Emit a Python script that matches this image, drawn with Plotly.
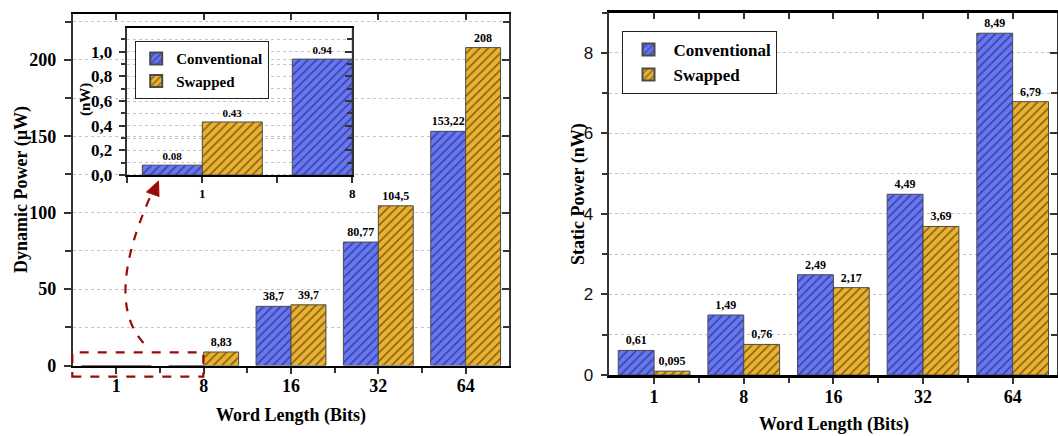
import plotly.graph_objects as go

# ---------------- data ----------------
word_lengths = ["1", "8", "16", "32", "64"]
series_names = ["Conventional", "Swapped"]

# Dynamic power (µW)
dyn_conventional = [0.00008, 0.00094, 38.7, 80.77, 153.22]
dyn_swapped = [0.00043, 8.83, 39.7, 104.5, 208]
dyn_conv_labels = ["", "", "38,7", "80,77", "153,22"]
dyn_swap_labels = ["", "8,83", "39,7", "104,5", "208"]

# Inset (nW) for word lengths 1 and 8
inset_lengths = ["1", "8"]
inset_conventional = [0.08, 0.94]
inset_swapped = [0.43, 8830]
inset_conv_labels = ["0.08", "0.94"]
inset_swap_labels = ["0.43", ""]

# Static power (nW)
sta_conventional = [0.61, 1.49, 2.49, 4.49, 8.49]
sta_swapped = [0.095, 0.76, 2.17, 3.69, 6.79]
sta_conv_labels = ["0,61", "1,49", "2,49", "4,49", "8,49"]
sta_swap_labels = ["0,095", "0,76", "2,17", "3,69", "6,79"]

# ---------------- style ----------------
W, H = 1058, 436
SERIF = "Liberation Serif, Times New Roman, serif"
SANS = "Liberation Sans, Arial, sans-serif"
BLUE, BLUE_FG = "#6676f6", "#34408f"
ORANGE, ORANGE_FG = "#ebb230", "#7a5a14"
EDGE = "#4a4a4a"
GRID = "#c4c4c4"
AX = "#333333"


def px_x(p):
    return p / W


def px_y(p):
    return 1 - p / H


idx = list(range(len(word_lengths)))
idx_in = list(range(len(inset_lengths)))
bounds = [i + 0.5 for i in idx[:-1]]


def bar(x, y, text, name, color, fg, xa, ya, legend=None, show=False, tsize=12):
    return go.Bar(
        x=x, y=y, name=name, text=text, textposition="outside",
        textfont=dict(family=SERIF, size=tsize, color="black", weight="bold"),
        cliponaxis=True, constraintext="none",
        marker=dict(color=color, line=dict(color=EDGE, width=1),
                    pattern=dict(shape="/", size=6, solidity=0.28, fgcolor=fg, fgopacity=0.9)),
        xaxis=xa, yaxis=ya, showlegend=show, legend=legend, hoverinfo="skip",
    )


fig = go.Figure()
# main left
fig.add_trace(bar(idx, dyn_conventional, dyn_conv_labels, series_names[0], BLUE, BLUE_FG, "x", "y", "legend", True))
fig.add_trace(bar(idx, dyn_swapped, dyn_swap_labels, series_names[1], ORANGE, ORANGE_FG, "x", "y", "legend", True))
# inset
fig.add_trace(bar(idx_in, inset_conventional, inset_conv_labels, series_names[0], BLUE, BLUE_FG, "x2", "y2", tsize=11))
fig.add_trace(bar(idx_in, inset_swapped, inset_swap_labels, series_names[1], ORANGE, ORANGE_FG, "x2", "y2", tsize=11))
# right
fig.add_trace(bar(idx, sta_conventional, sta_conv_labels, series_names[0], BLUE, BLUE_FG, "x3", "y3", "legend2", True))
fig.add_trace(bar(idx, sta_swapped, sta_swap_labels, series_names[1], ORANGE, ORANGE_FG, "x3", "y3", "legend2", True))

# dummy traces for overlay tick axes
for xa, ya in [("x4", "y"), ("x", "y4"), ("x5", "y3"), ("x3", "y5"), ("x2", "y6")]:
    fig.add_trace(go.Scatter(x=[None], y=[None], xaxis=xa, yaxis=ya, showlegend=False, hoverinfo="skip"))

tick_font = dict(family=SERIF, size=18, color="black", weight="bold")

dom_main_x = [px_x(72.7), px_x(509.3)]
dom_main_y = [px_y(365.5), px_y(14)]
dom_in_x = [px_x(127.3), px_x(352.3)]
dom_in_y = [px_y(175), px_y(28.3)]
dom_r_x = [px_x(609.3), 0.9995]
dom_r_y = [px_y(375), px_y(12.7)]

common = dict(automargin=False)

fig.update_layout(
    autosize=True,
    margin=dict(l=0, r=0, t=0, b=0, pad=0, autoexpand=False),
    paper_bgcolor="white", plot_bgcolor="rgba(0,0,0,0)",
    barmode="group", bargap=0.2, bargroupgap=0,
    separators=",.",
    xaxis=dict(domain=dom_main_x, anchor="y", range=[-0.5, 4.5], tickmode="array",
               tickvals=idx, ticktext=word_lengths, ticks="outside", ticklen=6, tickwidth=1.5,
               tickcolor=AX, tickfont=tick_font, showline=True, linecolor="black", linewidth=2,
               mirror=True, showgrid=False, zeroline=False, ticklabelstandoff=-3,
               minor=dict(tickmode="array", tickvals=bounds, ticks="outside", ticklen=5,
                          tickwidth=1.5, tickcolor=AX, showgrid=False), **common),
    yaxis=dict(domain=dom_main_y, anchor="x", range=[0, 230], tick0=0, dtick=50,
               ticks="outside", ticklen=7, tickwidth=1.5, tickcolor=AX, tickfont=tick_font,
               showline=True, linecolor=AX, linewidth=1.5, mirror=True,
               showgrid=True, gridcolor=GRID, griddash="dot", gridwidth=1, zeroline=False,
               ticklabelstandoff=4,
               minor=dict(dtick=25, ticks="outside", ticklen=6, tickwidth=1.5, tickcolor=AX,
                          showgrid=True, gridcolor=GRID, griddash="dot", gridwidth=1), **common),
    xaxis4=dict(overlaying="x", anchor="y", side="top", range=[-0.5, 4.5], tickmode="array",
                tickvals=idx, ticks="inside", ticklen=6, tickwidth=1.5, tickcolor=AX,
                showticklabels=False, showline=False, showgrid=False, zeroline=False, **common),
    yaxis4=dict(overlaying="y", anchor="x", side="right", range=[0, 230], tick0=0, dtick=50,
                ticks="inside", ticklen=7, tickwidth=1.5, tickcolor=AX, showticklabels=False,
                showline=False, showgrid=False, zeroline=False,
                minor=dict(dtick=25, ticks="inside", ticklen=6, tickwidth=1.5, tickcolor=AX, showgrid=False),
                **common),
    # inset
    xaxis2=dict(domain=dom_in_x, anchor="y2", range=[-0.5, 1.0], tickmode="array",
                tickvals=idx_in, ticktext=inset_lengths, ticks="outside", ticklen=6, tickwidth=1.5,
                tickcolor=AX, tickfont=dict(family=SERIF, size=13, color="black", weight="bold"),
                showline=True, linecolor="black", linewidth=2, mirror=True, showgrid=False,
                zeroline=False, ticklabelstandoff=-1,
                minor=dict(tickmode="array", tickvals=[-0.5, 0.5], ticks="outside", ticklen=6,
                           tickwidth=1.5, tickcolor=AX, showgrid=False), **common),
    yaxis2=dict(domain=dom_in_y, anchor="x2", range=[0, 1.19], tick0=0, dtick=0.2,
                tickformat=".1f", ticks="outside", ticklen=7, tickwidth=1.5, tickcolor=AX,
                tickfont=dict(family=SERIF, size=17, color="black", weight="bold"),
                showline=True, linecolor=AX, linewidth=1.5, mirror=True,
                showgrid=True, gridcolor=GRID, griddash="dot", gridwidth=1, zeroline=False,
                ticklabelstandoff=3,
                minor=dict(dtick=0.1, ticks="outside", ticklen=5, tickwidth=1.5, tickcolor=AX,
                           showgrid=True, gridcolor=GRID, griddash="dot", gridwidth=1), **common),
    yaxis6=dict(overlaying="y2", anchor="x2", side="right", range=[0, 1.19], tick0=0, dtick=0.2,
                ticks="inside", ticklen=7, tickwidth=1.5, tickcolor=AX, showticklabels=False,
                showline=False, showgrid=False, zeroline=False,
                minor=dict(dtick=0.1, ticks="inside", ticklen=5, tickwidth=1.5, tickcolor=AX, showgrid=False),
                **common),
    # right chart
    xaxis3=dict(domain=dom_r_x, anchor="y3", range=[-0.5, 4.5], tickmode="array",
                tickvals=idx, ticktext=word_lengths, ticks="outside", ticklen=6, tickwidth=1.5,
                tickcolor=AX, tickfont=tick_font, showline=True, linecolor="black", linewidth=2.5,
                mirror=True, showgrid=False, zeroline=False, ticklabelstandoff=-2,
                minor=dict(tickmode="array", tickvals=bounds, ticks="outside", ticklen=5,
                           tickwidth=1.5, tickcolor=AX, showgrid=False), **common),
    yaxis3=dict(domain=dom_r_y, anchor="x3", range=[0, 9], tick0=0, dtick=2,
                ticks="outside", ticklen=7, tickwidth=1.5, tickcolor=AX,
                tickfont=dict(family=SANS, size=17, color="#111111"),
                showline=True, linecolor=AX, linewidth=1.5, mirror=True,
                showgrid=True, gridcolor=GRID, griddash="dot", gridwidth=1, zeroline=False,
                ticklabelstandoff=4,
                minor=dict(dtick=1, ticks="outside", ticklen=6, tickwidth=1.5, tickcolor=AX,
                           showgrid=True, gridcolor=GRID, griddash="dot", gridwidth=1), **common),
    xaxis5=dict(overlaying="x3", anchor="y3", side="top", range=[-0.5, 4.5], tickmode="array",
                tickvals=idx + bounds, ticks="inside", ticklen=6, tickwidth=1.5, tickcolor=AX,
                showticklabels=False, showline=False, showgrid=False, zeroline=False, **common),
    yaxis5=dict(overlaying="y3", anchor="x3", side="right", range=[0, 9], tick0=0, dtick=2,
                ticks="inside", ticklen=7, tickwidth=1.5, tickcolor=AX, showticklabels=False,
                showline=False, showgrid=False, zeroline=False,
                minor=dict(dtick=1, ticks="inside", ticklen=6, tickwidth=1.5, tickcolor=AX, showgrid=False),
                **common),
    legend=dict(x=px_x(135), y=px_y(41), xanchor="left", yanchor="top",
                bgcolor="white", bordercolor="#222222", borderwidth=1.2,
                font=dict(family=SERIF, size=15, color="black", weight="bold"),
                tracegroupgap=0, itemsizing="constant"),
    legend2=dict(x=px_x(622.3), y=px_y(30.7), xanchor="left", yanchor="top",
                 bgcolor="white", bordercolor="#222222", borderwidth=1.2,
                 font=dict(family=SERIF, size=17, color="black", weight="bold"),
                 tracegroupgap=0, itemsizing="constant", itemwidth=40),
)

title_font = dict(family=SERIF, size=18, color="black", weight="bold")
annots = [
    dict(text="Word Length (Bits)", x=px_x(291), y=px_y(415.5)),
    dict(text="Word Length (Bits)", x=px_x(834), y=px_y(424.5)),
    dict(text="Dynamic Power (µW)", x=px_x(22), y=px_y(190), textangle=-90),
    dict(text="Static Power (nW)", x=px_x(578), y=px_y(194), textangle=-90),
    dict(text="(nW)", x=px_x(86), y=px_y(100), textangle=-90, size=15),
]
for a in annots:
    f = dict(title_font)
    if "size" in a:
        f["size"] = a.pop("size")
    fig.add_annotation(xref="paper", yref="paper", xanchor="center", yanchor="middle",
                       showarrow=False, font=f, **a)

RED = "#9b0a0a"
# dashed zoom box
fig.add_shape(type="rect", xref="paper", yref="paper",
              x0=px_x(72.3), x1=px_x(203.3), y0=px_y(376.7), y1=px_y(352.3),
              line=dict(color=RED, width=2.2, dash="dash"), fillcolor="rgba(0,0,0,0)")
# dashed curved arrow
p0 = (px_x(143.5), px_y(343))
c = (px_x(104), px_y(300))
p1 = (px_x(151), px_y(195))
fig.add_shape(type="path", xref="paper", yref="paper",
              path=f"M {p0[0]},{p0[1]} Q {c[0]},{c[1]} {p1[0]},{p1[1]}",
              line=dict(color=RED, width=2.2, dash="dash"))
tip = (px_x(158.5), px_y(181))
b1 = (px_x(146.5), px_y(192))
b2 = (px_x(159), px_y(196.5))
fig.add_shape(type="path", xref="paper", yref="paper",
              path=f"M {tip[0]},{tip[1]} L {b1[0]},{b1[1]} L {b2[0]},{b2[1]} Z",
              line=dict(color=RED, width=1), fillcolor=RED)

post = (
    "document.documentElement.style.margin='0';"
    "document.documentElement.style.overflow='hidden';"
    "document.body.style.margin='0';"
    "document.body.style.overflow='hidden';"
    "var gd=document.getElementById('{plot_id}');"
    "if(window.Plotly&&gd){Plotly.Plots.resize(gd);}"
)
fig.write_html("out.html", config={"displayModeBar": False, "responsive": True},
               default_width="100vw", default_height="100vh", post_script=post)
